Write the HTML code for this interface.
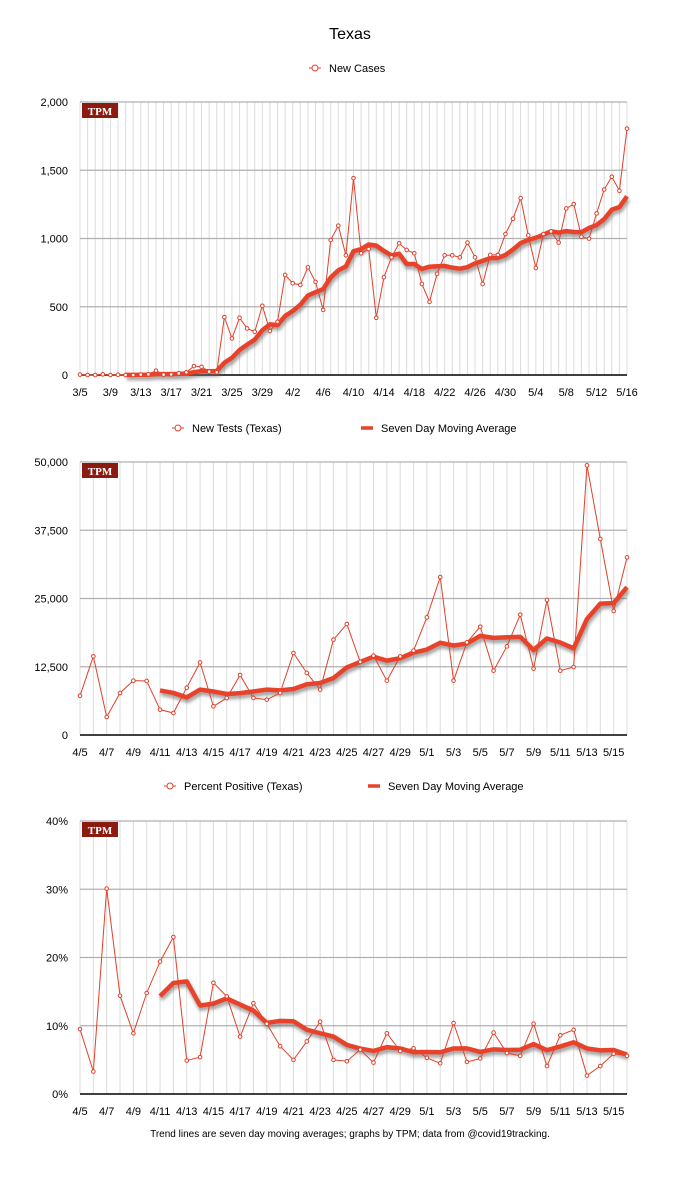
<!DOCTYPE html>
<html><head><meta charset="utf-8"><style>
body{margin:0;background:#fff;width:699px;height:1200px;overflow:hidden;font-family:"Liberation Sans",Arial,sans-serif}
svg{display:block}
</style></head><body>
<svg id="s" width="699" height="1200">
<defs><filter id="sh" x="-5%" y="-20%" width="110%" height="140%"><feGaussianBlur stdDeviation="1.5"/></filter></defs>
<text x="350" y="39" text-anchor="middle" font-size="16">Texas</text>
<text x="350" y="1137" text-anchor="middle" font-size="10">Trend lines are seven day moving averages; graphs by TPM; data from @covid19tracking.</text>
</svg>
<script>
const casesDates=["3/5","3/6","3/7","3/8","3/9","3/10","3/11","3/12","3/13","3/14","3/15","3/16","3/17","3/18","3/19","3/20","3/21","3/22","3/23","3/24","3/25","3/26","3/27","3/28","3/29","3/30","3/31","4/1","4/2","4/3","4/4","4/5","4/6","4/7","4/8","4/9","4/10","4/11","4/12","4/13","4/14","4/15","4/16","4/17","4/18","4/19","4/20","4/21","4/22","4/23","4/24","4/25","4/26","4/27","4/28","4/29","4/30","5/1","5/2","5/3","5/4","5/5","5/6","5/7","5/8","5/9","5/10","5/11","5/12","5/13","5/14","5/15","5/16"];
const newCases=[3,0,0,5,0,2,0,0,3,5,32,3,5,12,20,65,60,25,20,424,268,419,341,317,507,322,390,733,672,660,789,682,477,989,1094,877,1442,892,923,419,716,862,965,916,892,667,536,741,877,877,862,970,862,667,880,880,1033,1145,1296,1023,784,1033,1052,970,1220,1252,1013,999,1184,1359,1452,1350,1805];
const aprDates=["4/5","4/6","4/7","4/8","4/9","4/10","4/11","4/12","4/13","4/14","4/15","4/16","4/17","4/18","4/19","4/20","4/21","4/22","4/23","4/24","4/25","4/26","4/27","4/28","4/29","4/30","5/1","5/2","5/3","5/4","5/5","5/6","5/7","5/8","5/9","5/10","5/11","5/12","5/13","5/14","5/15","5/16"];
const newTests=[7200,14400,3300,7700,9950,9900,4640,4030,8670,13300,5250,6780,10990,6780,6470,7700,15020,11360,8300,17460,20330,13400,14530,9950,14400,15450,21550,28940,9950,16970,19840,11780,16240,22040,12150,24730,11780,12450,49390,35900,22710,32540];
const pctPositive=[9.5,3.3,30.1,14.4,8.9,14.8,19.4,23.0,4.9,5.4,16.3,14.3,8.4,13.3,10.3,7.0,5.0,7.7,10.6,5.0,4.8,6.5,4.6,8.9,6.3,6.7,5.3,4.5,10.4,4.7,5.2,9.0,6.0,5.6,10.3,4.1,8.6,9.4,2.7,4.1,5.9,5.6];
const casesTicks=[0,500,1000,1500,2000];
const testsTicks=[0,12500,25000,37500,50000];
const pctTicks=[0,10,20,30,40];

const NS="http://www.w3.org/2000/svg",S=document.getElementById('s');
function mk(t,a,p){const e=document.createElementNS(NS,t);for(const k in a)e.setAttribute(k,a[k]);(p||S).appendChild(e);return e;}
function ma(v){return v.map((x,i)=>i<6?null:v.slice(i-6,i+1).reduce((a,b)=>a+b,0)/7);}
function chart(o){
  const g=mk('g',{});
  
  
  const L=80,R=627,T=o.top,B=o.top+273,n=o.dates.length,max=o.ticks[o.ticks.length-1];
  const X=i=>L+(R-L)*i/(n-1),Y=v=>B-(B-T)*v/max;
  for(let i=0;i<n;i++){const l=mk('line',{x1:X(i),x2:X(i),y1:T,y2:B,stroke:'#dcdcdc','stroke-width':1},g);
    }
  o.ticks.forEach(t=>{const l=mk('line',{x1:L,x2:R,y1:Y(t),y2:Y(t),stroke:t?'#b0b0b0':'#000','stroke-width':t?1.2:1.5},g);
    
    const tx=mk('text',{x:68,y:Y(t)+4,'text-anchor':'end','font-size':11},g);tx.textContent=o.fmt(t);
    });
  o.dates.forEach((d,i)=>{if(i%o.every)return;const tx=mk('text',{x:X(i),y:B+21,'text-anchor':'middle','font-size':11},g);tx.textContent=d;
    });
  const b=mk('rect',{x:82,y:T+1,width:36,height:15,fill:'#8b1a10'},g);
  
  const bt=mk('text',{x:100,y:T+13,'text-anchor':'middle','font-size':11,'font-weight':'bold',fill:'#fff','font-family':'Liberation Serif,serif'},g);bt.textContent='TPM';
  const pts=o.vals.map((v,i)=>X(i)+','+Y(v)).join(' ');
  const m=ma(o.vals);const mp=m.map((v,i)=>v==null?null:X(i)+','+Y(v)).filter(x=>x).join(' ');
  const s1=mk('polyline',{points:mp,fill:'none',stroke:'#666','stroke-width':5,opacity:.6,filter:'url(#sh)',transform:'translate(1,3)'},g);
  
  const dl=mk('polyline',{points:pts,fill:'none',stroke:'#e0402a','stroke-width':1},g);
  
  const ml=mk('polyline',{points:mp,fill:'none',stroke:'#e8432a','stroke-width':4.5,'stroke-linejoin':'round'},g);
  
  o.vals.forEach((v,i)=>{const c=mk('circle',{cx:X(i),cy:Y(v),r:1.8,fill:'#fff',stroke:'#e0402a','stroke-width':1},g);
    });
  o.legend.forEach(lg=>{
    if(lg.line){const l=mk('line',{x1:lg.x-6,x2:lg.x+6,y1:lg.y,y2:lg.y,stroke:'#e8432a','stroke-width':3.5},g);
      }
    else{mk('line',{x1:lg.x-6,x2:lg.x+6,y1:lg.y,y2:lg.y,stroke:'#e0402a','stroke-width':1},g);
      const c=mk('circle',{cx:lg.x,cy:lg.y,r:3,fill:'#fff',stroke:'#e0402a','stroke-width':1},g);
      }
    const t=mk('text',{x:lg.x+14,y:lg.y+4,'font-size':11},g);t.textContent=lg.text;
    });
}
chart({name:'new-cases-chart',top:102,dates:casesDates,vals:newCases,ticks:casesTicks,every:4,fmt:t=>t.toLocaleString('en-US'),
  legend:[{x:315,y:68,text:'New Cases'}]});
chart({name:'new-tests-chart',top:462,dates:aprDates,vals:newTests,ticks:testsTicks,every:2,fmt:t=>t.toLocaleString('en-US'),
  legend:[{x:178,y:428,text:'New Tests (Texas)'},{x:367,y:428,text:'Seven Day Moving Average',line:1}]});
chart({name:'percent-positive-chart',top:821,dates:aprDates,vals:pctPositive,ticks:pctTicks,every:2,fmt:t=>t+'%',
  legend:[{x:170,y:786,text:'Percent Positive (Texas)'},{x:374,y:786,text:'Seven Day Moving Average',line:1}]});
</script>
</body></html>
